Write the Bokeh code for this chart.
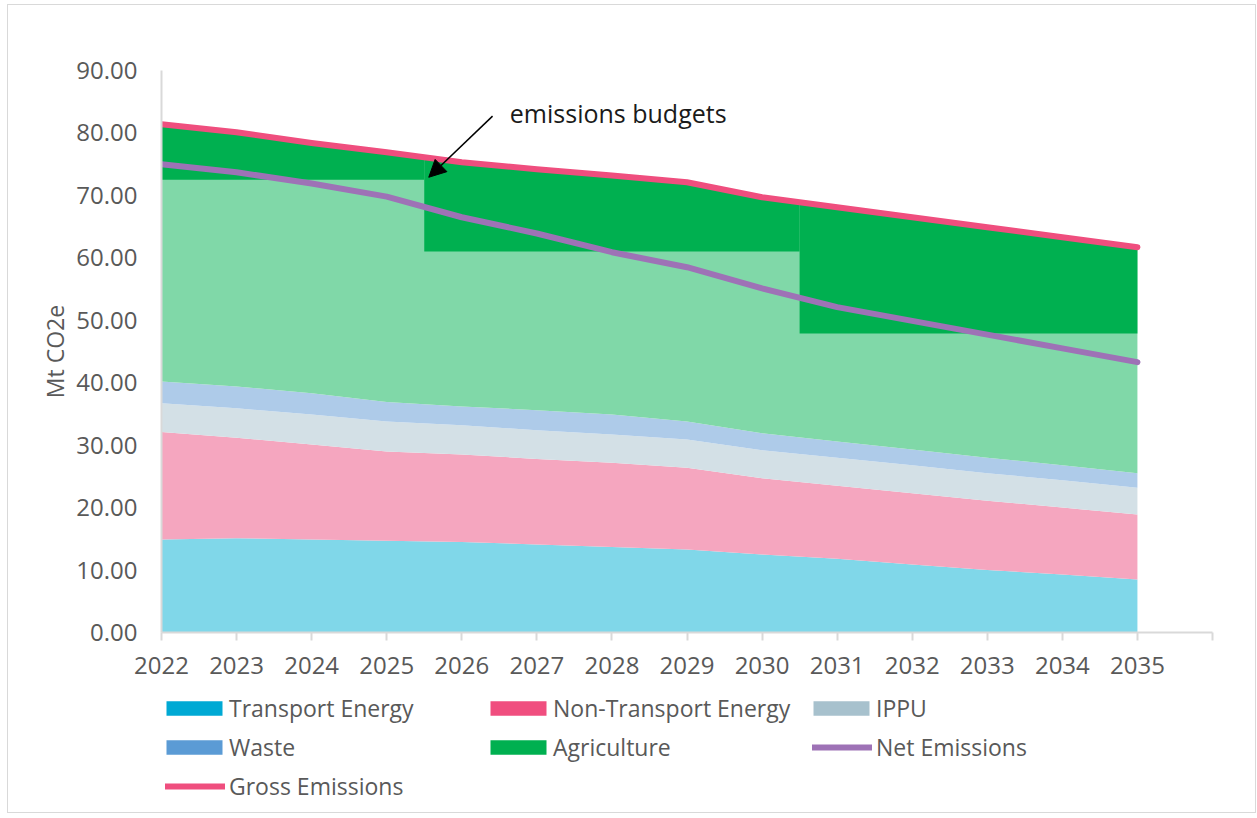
import numpy as np
from bokeh.plotting import figure
from bokeh.layouts import column
from bokeh.models import (FixedTicker, NumeralTickFormatter, Legend, LegendItem,
                          Label, Arrow, NormalHead, Range1d)
from bokeh.embed import file_html
from bokeh.resources import INLINE

# ---------------- data ----------------
years = [2022, 2023, 2024, 2025, 2026, 2027, 2028, 2029, 2030, 2031, 2032, 2033, 2034, 2035]
transport_energy = [14.9, 15.1, 14.9, 14.7, 14.5, 14.1, 13.7, 13.3, 12.5, 11.8, 10.9, 10.0, 9.3, 8.5]
non_transport_energy = [17.2, 16.1, 15.2, 14.3, 14.0, 13.7, 13.5, 13.1, 12.2, 11.7, 11.4, 11.1, 10.7, 10.4]
ippu = [4.6, 4.7, 4.8, 4.8, 4.7, 4.6, 4.5, 4.5, 4.5, 4.5, 4.5, 4.4, 4.4, 4.3]
waste = [3.5, 3.5, 3.4, 3.1, 3.0, 3.2, 3.2, 2.9, 2.7, 2.6, 2.5, 2.5, 2.4, 2.3]
agriculture = [41.2, 40.7, 40.1, 40.0, 39.1, 38.6, 38.3, 38.3, 37.8, 37.5, 37.2, 36.9, 36.5, 36.2]
gross_emissions = [81.4, 80.1, 78.4, 76.9, 75.3, 74.2, 73.2, 72.1, 69.7, 68.1, 66.5, 64.9, 63.3, 61.7]
net_emissions = [75.0, 73.7, 71.9, 69.8, 66.5, 63.9, 60.9, 58.5, 55.1, 52.1, 49.9, 47.7, 45.5, 43.3]

budget_start = [2022, 2025.5, 2030.5]
budget_end = [2025.5, 2030.5, 2035]
budget_level = [72.5, 61.0, 47.9]

series_names = ["Transport Energy", "Non-Transport Energy", "IPPU", "Waste", "Agriculture"]
area_colors = ["#80d7e9", "#f5a6bf", "#d3e0e6", "#aecbe9", "#80d8a8"]
legend_colors = ["#00a9d4", "#f04e7f", "#a7c1cd", "#5b9bd5", "#00b050"]
net_color = "#9e72b6"
gross_color = "#ef4e7e"

x_ticks = list(range(2022, 2037))
y_ticks = list(range(0, 91, 10))

TEXT = "#595959"
FONT = "Open Sans"

# page geometry: bordered box from (7,4) to (1255,812); content starts at (8,5)
W = 1247
CHART_H = 685          # content y 5 .. 690
LEGEND_H = 807 - CHART_H
LEG_TOP = 5 + CHART_H  # page y of legend figure top
FRAME_LEFT = 161
BL, BR = 153, 43

# ---------------- chart figure ----------------
p = figure(width=W, height=CHART_H, output_backend="svg", toolbar_location=None,
           x_range=Range1d(2022, 2036), y_range=Range1d(0, 90),
           min_border_left=BL, min_border_right=BR, min_border_top=65,
           min_border_bottom=CHART_H + 5 - 632)
p.outline_line_color = None
p.xgrid.visible = False
p.ygrid.visible = False

comps = np.array([transport_energy, non_transport_energy, ippu, waste, agriculture])
tops = np.cumsum(comps, axis=0)
bottoms = np.vstack([np.zeros(len(years)), tops[:-1]])
for i in range(len(series_names)):
    p.varea(x=years, y1=bottoms[i], y2=tops[i], fill_color=area_colors[i])

# emissions above budget (dark green)
total = tops[-1]
for s, e, lvl in zip(budget_start, budget_end, budget_level):
    xs = [s] + [y for y in years if s < y < e] + [e]
    ys = np.interp(xs, years, total)
    p.varea(x=xs, y1=[lvl] * len(xs), y2=ys, fill_color="#00b050")

p.line(years, net_emissions, line_color=net_color, line_width=6,
       line_cap="round", line_join="round")
p.line(years, gross_emissions, line_color=gross_color, line_width=6,
       line_cap="round", line_join="round")

xa = p.xaxis[0]
xa.ticker = FixedTicker(ticks=x_ticks)
xa.major_label_overrides = {2036: ""}
xa.axis_line_color = "#d9d9d9"
xa.axis_line_width = 2
xa.major_tick_line_color = "#d9d9d9"
xa.major_tick_line_width = 2
xa.major_tick_out = 8
xa.major_tick_in = 0
xa.minor_tick_line_color = None
xa.major_label_text_font = FONT
xa.major_label_text_font_size = "24px"
xa.major_label_text_color = TEXT
xa.major_label_standoff = 16

ya = p.yaxis[0]
ya.ticker = FixedTicker(ticks=y_ticks)
ya.formatter = NumeralTickFormatter(format="0.00")
ya.axis_line_color = "#d9d9d9"
ya.axis_line_width = 2
ya.major_tick_line_color = None
ya.major_tick_out = 0
ya.major_tick_in = 0
ya.minor_tick_line_color = None
ya.major_label_text_font = FONT
ya.major_label_text_font_size = "24px"
ya.major_label_text_color = TEXT
ya.major_label_standoff = 24
ya.axis_label = "Mt CO2e"
ya.axis_label_text_font = FONT
ya.axis_label_text_font_size = "23px"
ya.axis_label_text_font_style = "normal"
ya.axis_label_text_color = TEXT
ya.axis_label_standoff = 2

p.add_layout(Label(x=2026.64, y=83.2, text="emissions budgets", text_baseline="middle",
                   text_font=FONT, text_font_size="25px", text_color="#1a1a1a"))
p.add_layout(Arrow(end=NormalHead(size=17, fill_color="black", line_color="black"),
                   x_start=2026.41, y_start=82.7, x_end=2025.56, y_end=72.9,
                   line_width=1.5, line_color="black"))

# ---------------- legend figure ----------------
lg = figure(width=W, height=LEGEND_H, output_backend="svg", toolbar_location=None,
            x_range=Range1d(0, 1), y_range=Range1d(0, 1),
            x_axis_location=None, y_axis_location=None,
            min_border_left=BL, min_border_right=BR,
            min_border_top=0, min_border_bottom=0)
lg.outline_line_color = None
lg.xgrid.visible = False
lg.ygrid.visible = False

# legend proxies: placed outside the visible range so only their legend glyphs show
swatches = [lg.varea(x=[5, 6], y1=[5, 5], y2=[6, 6], fill_color=c) for c in legend_colors]
net_proxy = lg.line(x=[5, 6], y=[5, 5], line_color=net_color, line_width=6, line_cap="round")
gross_proxy = lg.line(x=[5, 6], y=[5, 5], line_color=gross_color, line_width=6, line_cap="round")

LEG_H = 33


def add_legend(label, renderer, x_page, y_center, glyph_w, glyph_h, standoff):
    leg = Legend(items=[LegendItem(label=label, renderers=[renderer])],
                 location=(x_page - FRAME_LEFT, (LEG_TOP + LEGEND_H) - (y_center + LEG_H / 2)),
                 glyph_width=glyph_w, glyph_height=glyph_h, label_standoff=standoff,
                 padding=0, margin=0, spacing=0, border_line_color=None,
                 background_fill_alpha=0, label_text_font=FONT,
                 label_text_font_size="23px", label_text_color=TEXT,
                 label_height=18)
    lg.add_layout(leg)


add_legend("Transport Energy", swatches[0], 159, 707, 70, 18, 0)
add_legend("Non-Transport Energy", swatches[1], 483, 707, 70, 18, 0)
add_legend("IPPU", swatches[2], 806, 707, 70, 18, 0)
add_legend("Waste", swatches[3], 159, 746, 70, 18, 0)
add_legend("Agriculture", swatches[4], 483, 746, 70, 18, 0)
add_legend("Net Emissions", net_proxy, 812, 746, 60, 18, 4)
add_legend("Gross Emissions", gross_proxy, 165, 785, 60, 18, 4)

layout = column(p, lg, spacing=0, margin=(4, 0, 0, 7),
                styles={"border": "1px solid #d9d9d9"})

open("out.html", "w").write(file_html(layout, INLINE))
